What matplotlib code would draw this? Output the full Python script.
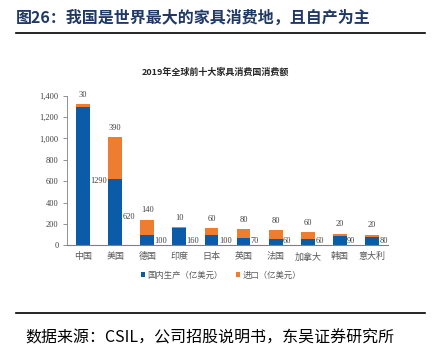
import matplotlib
matplotlib.use("Agg")
import matplotlib.pyplot as plt
import numpy as np

plt.rcParams['font.family'] = ['Liberation Serif', 'Noto Sans CJK SC', 'DejaVu Sans']

countries = ['中国', '美国', '德国', '印度', '日本', '英国', '法国', '加拿大', '韩国', '意大利']
domestic = [1290, 620, 100, 160, 100, 70, 60, 60, 90, 80]
imports = [30, 390, 140, 10, 60, 80, 80, 60, 20, 20]
yticks = [0, 200, 400, 600, 800, 1000, 1200, 1400]

blue = '#0A5CA8'
orange = '#ED7D31'
cjk = ['Noto Sans CJK SC', 'DejaVu Sans']

fig = plt.figure(figsize=(4.32, 3.54), dpi=100)
W, H = 432, 354

def fx(px):
    return px / W

def fy(py):
    return 1 - py / H

ax = fig.add_axes([fx(67), fy(245.3), fx(388 - 67), (245.3 - 95.7) / H])
x = np.arange(len(countries))
ax.bar(x, domestic, width=0.43, color=blue, label='国内生产（亿美元）')
ax.bar(x, imports, width=0.43, bottom=domestic, color=orange, label='进口（亿美元）')
ax.set_xlim(-0.5, len(countries) - 0.5)
ax.set_ylim(0, 1400)
ax.set_yticks(yticks)
ax.set_yticklabels([f'{v:,}' for v in yticks], fontsize=6, color='#404040')
ax.set_xticks(x)
ax.set_xticklabels(countries, fontsize=6.5, color='#595959', family=cjk)
ax.tick_params(axis='x', length=0, pad=5)
ax.tick_params(axis='y', length=3, width=0.6, color='#808080', pad=3)
for s in ['top', 'right']:
    ax.spines[s].set_visible(False)
ax.spines['left'].set_color('#808080')
ax.spines['left'].set_linewidth(0.6)
ax.spines['bottom'].set_color('#808080')
ax.spines['bottom'].set_linewidth(0.8)

for i, (d, m) in enumerate(zip(domestic, imports)):
    ax.annotate(f'{m}', (i, d + m), xytext=(0, 4), textcoords='offset points',
                ha='center', va='bottom', fontsize=6, color='#404040')
    ax.text(i + 0.23, max(d / 2 - 45, 40), f'{d}', ha='left', va='center',
            fontsize=6, color='#404040')

fig.text(fx(215), fy(72), '2019年全球前十大家具消费国消费额', ha='center', va='center',
         fontsize=6.5, fontweight='bold', color='#262626', family=cjk)

leg = ax.legend(loc='center', bbox_to_anchor=(0.48, -0.2), ncol=2, frameon=False,
                handlelength=0.5, handleheight=0.5, handletextpad=0.3,
                columnspacing=1.6, prop={'family': cjk, 'size': 6})
for t in leg.get_texts():
    t.set_color('#595959')

fig.text(fx(16), fy(18), '图26：我国是世界最大的家具消费地，且自产为主', ha='left', va='center',
         fontsize=11.5, fontweight='bold', color='#1F3864', family=cjk)
fig.add_artist(plt.Line2D([fx(16), fx(425)], [fy(33), fy(33)], color='black', lw=1.2))
fig.add_artist(plt.Line2D([fx(16), fx(425)], [fy(313), fy(313)], color='black', lw=1.2))
fig.text(fx(25), fy(338), '数据来源：CSIL，公司招股说明书，东吴证券研究所', ha='left', va='center',
         fontsize=11.5, color='black', family=cjk)

fig.savefig('out.png', dpi=100)
